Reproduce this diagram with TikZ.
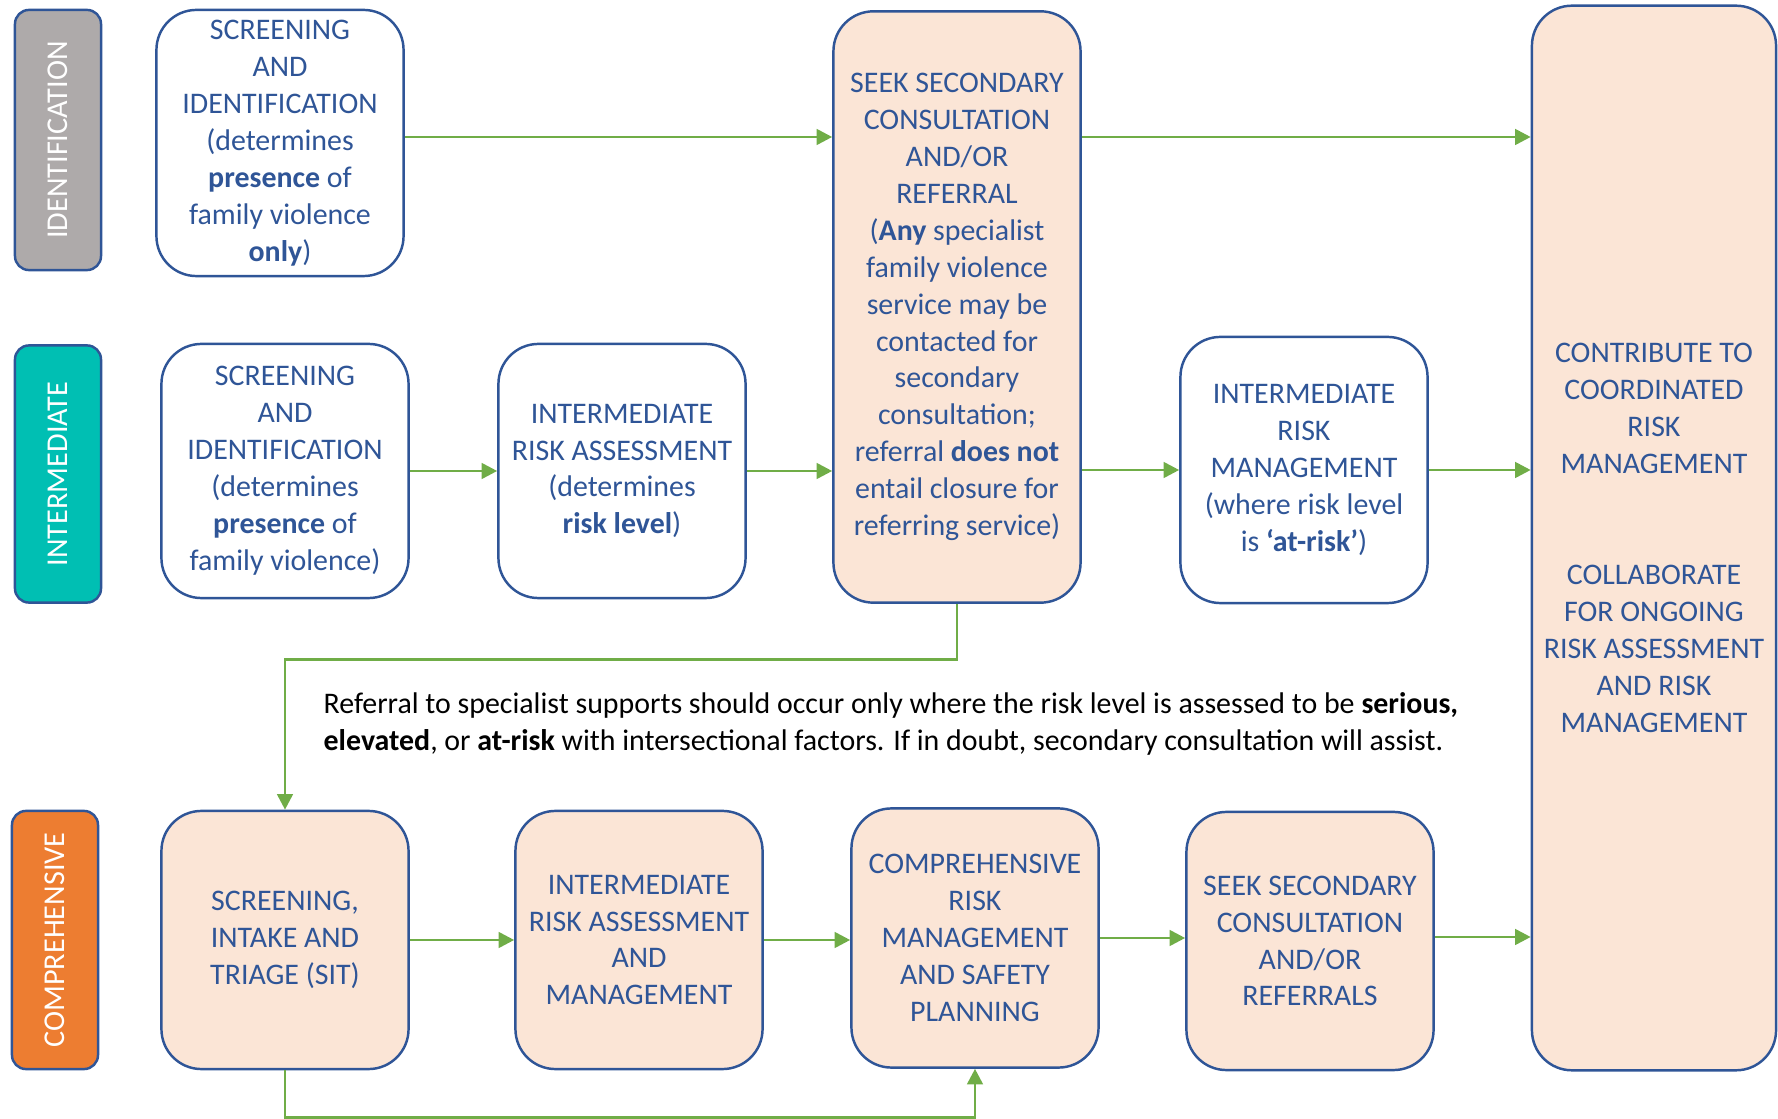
\documentclass[tikz,border=0pt]{standalone}
\usepackage{fontspec}
\setmainfont{Carlito}
\usetikzlibrary{arrows.meta}
\definecolor{boxblue}{HTML}{2F5597}
\definecolor{peach}{HTML}{FBE5D6}
\definecolor{flowgreen}{HTML}{70AD47}
\definecolor{idgray}{HTML}{AEAAAA}
\definecolor{intteal}{HTML}{00BFB3}
\definecolor{comporange}{HTML}{ED7D31}

\begin{document}
\begin{tikzpicture}[x=0.01cm, y=-0.01cm,
  stage/.style={draw=boxblue, line width=0.7pt, rounded corners=0.4cm, minimum width=2.47cm,
    align=center, text=boxblue, inner sep=1pt, font=\fontsize{8.5}{10.5}\selectfont},
  plainbox/.style={stage, fill=white},
  peachbox/.style={stage, fill=peach},
  tier/.style={draw=boxblue, line width=0.7pt, rounded corners=0.14cm, minimum height=0.86cm,
    text=white, rotate=90, font=\fontsize{8.6}{10.5}\selectfont},
  flow/.style={draw=flowgreen, line width=0.8pt, -{Triangle[length=4.4pt,width=4.4pt]}}]
\useasboundingbox (0,0) rectangle (1778,1119);

% tiers on the left
\node[tier, fill=idgray, minimum width=2.6cm] (tid) at (58,140) {IDENTIFICATION};
\node[tier, fill=intteal, minimum width=2.57cm] (tint) at (58,474) {INTERMEDIATE};
\node[tier, fill=comporange, minimum width=2.58cm] (tcomp) at (55,940) {COMPREHENSIVE};

% identification row
\node[plainbox, minimum height=2.66cm] (A) at (280,143) {SCREENING\\AND\\IDENTIFICATION\\(determines\\\textbf{presence} of\\family violence\\\textbf{only})};
\node[peachbox, minimum height=5.91cm] (D) at (957,307) {SEEK SECONDARY\\CONSULTATION\\AND/OR\\REFERRAL\\(\textbf{Any} specialist\\family violence\\service may be\\contacted for\\secondary\\consultation;\\referral \textbf{does not}\\entail closure for\\referring service)};
\node[peachbox, minimum width=2.44cm, minimum height=10.64cm] (E) at (1654,538) {CONTRIBUTE TO\\COORDINATED\\RISK\\MANAGEMENT\\[21pt]COLLABORATE\\FOR ONGOING\\RISK ASSESSMENT\\AND RISK\\MANAGEMENT};
\coordinate (toprow) at (0,137);

% intermediate row
\node[plainbox, minimum height=2.54cm] (B) at (285,471) {SCREENING\\AND\\IDENTIFICATION\\(determines\\\textbf{presence} of\\family violence)};
\node[plainbox, minimum height=2.54cm] (C) at (622,471) {INTERMEDIATE\\RISK ASSESSMENT\\(determines\\\textbf{risk level})};
\node[plainbox, minimum height=2.66cm] (F) at (1304,470) {INTERMEDIATE\\RISK\\MANAGEMENT\\(where risk level\\is \textbf{‘at-risk’})};

% comprehensive row
\node[peachbox, minimum height=2.58cm] (G) at (285,940) {SCREENING,\\INTAKE AND\\TRIAGE (SIT)};
\node[peachbox, minimum height=2.58cm] (H) at (639,940) {INTERMEDIATE\\RISK ASSESSMENT\\AND\\MANAGEMENT};
\node[peachbox, minimum height=2.59cm] (I) at (975,938) {COMPREHENSIVE\\RISK\\MANAGEMENT\\AND SAFETY\\PLANNING};
\node[peachbox, minimum height=2.58cm] (J) at (1310,941) {SEEK SECONDARY\\CONSULTATION\\AND/OR\\REFERRALS};
\coordinate (lastrow) at (0,937);

% note
\node[anchor=west, align=left, inner sep=0pt, font=\fontsize{8.5}{10.5}\selectfont] (note) at (323,724)
  {Referral to specialist supports should occur only where the risk level is assessed to be \textbf{serious,}\\
   \textbf{elevated}, or \textbf{at-risk} with intersectional factors. If in doubt, secondary consultation will assist.};

% arrows
\draw[flow] (A.east |- toprow) -- (toprow -| D.west);
\draw[flow] (D.east |- toprow) -- (toprow -| E.west);
\draw[flow] (B.east) -- (B.east -| C.west);
\draw[flow] (C.east) -- (C.east -| D.west);
\draw[flow] (D.east |- F.west) -- (F.west);
\draw[flow] (F.east) -- (F.east -| E.west);
\draw[flow] (D.south) -- ++(0,56) -| (G.north);
\draw[flow] (G.east) -- (G.east -| H.west);
\draw[flow] (H.east) -- (H.east -| I.west);
\draw[flow] (I.east) -- (I.east -| J.west);
\draw[flow] (J.east |- lastrow) -- (lastrow -| E.west);
\draw[flow] (G.south) -- ++(0,47) -| (I.south);
\end{tikzpicture}
\end{document}
